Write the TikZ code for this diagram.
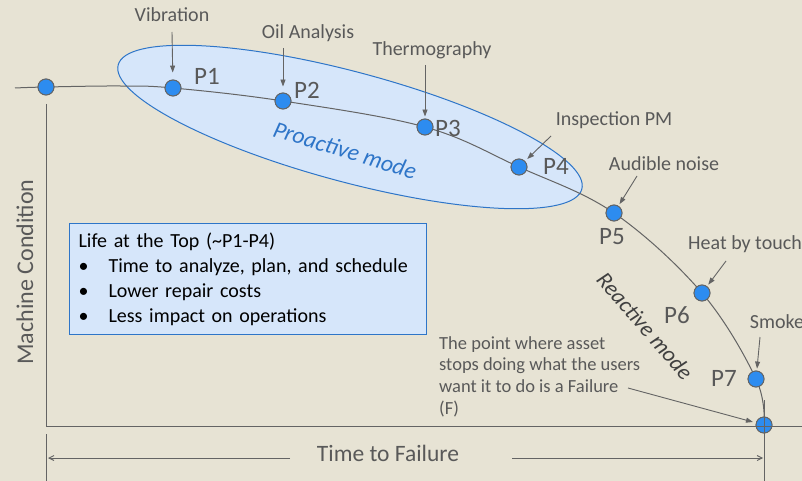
\documentclass[tikz,border=0pt]{standalone}
\usepackage{fontspec}
\setmainfont{Carlito}
\usepackage{xcolor}
\usetikzlibrary{positioning,arrows.meta,calc}

\definecolor{bgbeige}{RGB}{231,227,212}
\definecolor{ellfill}{RGB}{214,230,250}
\definecolor{ellline}{RGB}{46,117,200}
\definecolor{dotblue}{RGB}{45,140,240}
\definecolor{txtgrey}{RGB}{89,89,89}
\definecolor{lngrey}{RGB}{100,100,100}

\begin{document}
\begin{tikzpicture}[x=1pt,y=-1pt,
    pt/.style={circle, draw=lngrey, fill=dotblue, line width=0.9pt, minimum size=16pt, inner sep=0pt},
    lbl/.style={text=txtgrey, font=\fontsize{20}{22}\selectfont},
    plbl/.style={text=txtgrey, font=\fontsize{25}{28}\selectfont},
    arr/.style={draw=lngrey, line width=0.9pt, -{Triangle[length=7pt,width=5pt]}},
    axis/.style={draw=lngrey, line width=1pt}]
            % Background and bounding box
            \fill[bgbeige] (0,0) rectangle (802,481);
            \useasboundingbox (0,0) rectangle (802,481);

            % Draw the proactive ellipse
            \draw[ellline, fill=ellfill, line width=1pt, rotate around={-15:(350,127)}] (350,127) ellipse [x radius=240, y radius=55];
            \node[text=ellline, rotate=-17, font=\fontsize{23.5}{26}\selectfont\itshape] (pro) at (345,150) {Proactive mode};

            % Draw the life box
            \node[draw=ellline, fill=ellfill, line width=1.1pt, anchor=north west, minimum width=357pt, minimum height=110pt,
                  inner sep=9pt, align=left, text width=339pt, font=\fontsize{20}{25}\selectfont] (life) at (69,223)
                {Life at the Top (\textasciitilde P1-P4)\\
                 \makebox[30pt][l]{\textbullet}Time to analyze, plan, and schedule\\
                 \makebox[30pt][l]{\textbullet}Lower repair costs\\
                 \makebox[30pt][l]{\textbullet}Less impact on operations};

            % Draw the points on the curve
            \node[pt] (p0) at (46,87) {};
            \node[pt] (p1) at (173,88) {};
            \node[pt] (p2) at (283,101) {};
            \node[pt] (p3) at (425,127) {};
            \node[pt] (p4) at (519,167) {};
            \node[pt] (p5) at (614,213) {};
            \node[pt] (p6) at (702,293) {};
            \node[pt] (p7) at (756,379) {};
            \node[pt] (pf) at (764,425) {};

            % Draw the condition curve
            \coordinate (cstart) at (15,88);
            \coordinate (cflat) at (120,86);
            \draw[lngrey, line width=1pt] plot[smooth, tension=0.6] coordinates {(cstart) (p0.center) (cflat) (p1.center) (p2.center)
                (p3.center) (p4.center) (p5.center) (p6.center) (p7.center) (pf.center)};
            \foreach \p in {p0,p1,p2,p3,p4,p5,p6,p7,pf}
                \node[pt] at (\p) {};

            % Draw the axes
            \coordinate (ytop) at (46,104);
            \coordinate (orig) at (46,426);
            \coordinate (xend) at (802,426);
            \draw[axis] (ytop) -- (orig) -- (xend);
            \draw[axis] (764,400) -- (764,481);
            \draw[axis] (46,434) -- (46,481);
            \node[text=txtgrey, rotate=90, font=\fontsize{24}{26}\selectfont] (ylab) at (25,272) {Machine Condition};

            % Draw the time to failure dimension
            \node[text=txtgrey, font=\fontsize{23.5}{26}\selectfont] (tlab) at (388,453) {Time to Failure};
            \coordinate (tl) at (48,458);
            \coordinate (tr) at (763,458);
            \draw[draw=lngrey, line width=0.9pt, -{Straight Barb[length=5pt,width=5pt]}] (290,458) -- (tl);
            \draw[draw=lngrey, line width=0.9pt, -{Straight Barb[length=5pt,width=5pt]}] (512,458) -- (tr);

            % Draw the point labels
            \node[plbl] (n1) at (207,76) {P1};
            \node[plbl] (n2) at (307,90) {P2};
            \node[plbl] (n3) at (448,128) {P3};
            \node[plbl] (n4) at (556,166) {P4};
            \node[plbl] (n5) at (612,237) {P5};
            \node[plbl] (n6) at (677,315) {P6};
            \node[plbl] (n7) at (724,378) {P7};

            % Draw the technique labels and arrows
            \node[lbl] (l1) at (172,15) {Vibration};
            \node[lbl] (l2) at (308,33) {Oil Analysis};
            \node[lbl] (l3) at (432,50) {Thermography};
            \node[lbl] (l4) at (614,120) {Inspection PM};
            \node[lbl] (l5) at (664,164) {Audible noise};
            \node[lbl] (l6) at (745,244) {Heat by touch};
            \node[lbl] (l7) at (777,322) {Smoke};
            \coordinate (a1) at (172,32);
            \coordinate (a2) at (283,48);
            \coordinate (a3) at (425,65);
            \coordinate (a4) at (551,136);
            \coordinate (a5) at (637,176);
            \coordinate (a6) at (726,261);
            \coordinate (a7) at (760,337);
            \draw[arr, shorten >=7pt] (a1) -- (p1);
            \draw[arr, shorten >=6pt] (a2) -- (p2);
            \draw[arr, shorten >=2pt] (a3) -- (p3);
            \draw[arr, shorten >=3pt] (a4) -- (p4);
            \draw[arr, shorten >=2pt] (a5) -- (p5);
            \draw[arr, shorten >=2pt] (a6) -- (p6);
            \draw[arr, shorten >=2pt] (a7) -- (p7);

            % Draw the reactive mode and failure note
            \node[text=black!75, rotate=-49, font=\fontsize{22.5}{24}\selectfont\itshape] (rea) at (645,326) {Reactive mode};
            \node[text=txtgrey, anchor=north west, align=left, inner sep=0pt, font=\fontsize{18.5}{21.7}\selectfont] (note) at (439,336)
                {The point where asset\\ stops doing what the users\\ want it to do is a Failure\\ (F)};
            \coordinate (af) at (628,388);
            \draw[arr, shorten >=3pt] (af) -- (pf);
        \end{tikzpicture}
\end{document}
